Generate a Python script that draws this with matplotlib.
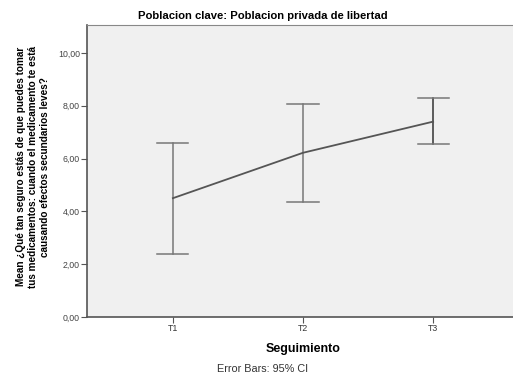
import matplotlib
matplotlib.use("Agg")
import matplotlib.pyplot as plt
import numpy as np

plt.rcParams["font.family"] = ["Liberation Sans", "DejaVu Sans"]

categories = ["T1", "T2", "T3"]
means = [4.50, 6.22, 7.40]
ci_upper = [6.58, 8.08, 8.28]
ci_lower = [2.37, 4.36, 6.55]
yticks = [0, 2, 4, 6, 8, 10]
ytick_labels = ["0,00", "2,00", "4,00", "6,00", "8,00", "10,00"]

fig = plt.figure(figsize=(5.13, 3.77), dpi=100)
ax = fig.add_axes([87/513, 60/377, 432/513, 292/377])
ax.set_facecolor("#f0f0f0")

x = np.arange(1, len(categories) + 1)
ax.plot(x, means, color="#555555", lw=1.3, zorder=3)
cap = 0.12
for i, xi in enumerate(x):
    col = "#333333" if i == 2 else "#777777"
    ax.plot([xi, xi], [ci_lower[i], ci_upper[i]], color=col, lw=1.1, zorder=2)
    for yv in (ci_lower[i], ci_upper[i]):
        ax.plot([xi - cap, xi + cap], [yv, yv], color="#777777", lw=1.1, zorder=2)

ax.set_xlim(0.34, 3.66)
ax.set_ylim(0, 11.06)
ax.set_xticks(x)
ax.set_xticklabels(categories, fontsize=6.3, color="#333333")
ax.set_yticks(yticks)
ax.set_yticklabels(ytick_labels, fontsize=6.3, color="#444444")
ax.tick_params(axis="both", length=4, width=0.8, color="#555555", pad=1)

for s in ["left", "bottom"]:
    ax.spines[s].set_color("#555555")
    ax.spines[s].set_linewidth(1.2)
ax.spines["top"].set_color("#888888")
ax.spines["right"].set_visible(False)

ax.set_xlabel("Seguimiento", fontsize=9, fontweight="bold", labelpad=7)
ax.set_ylabel("Mean ¿Qué tan seguro estás de que puedes tomar\ntus medicamentos: cuando el medicamento te está\ncausando efectos secundarios leves?",
              fontsize=7.2, fontweight="bold", linespacing=1.25)
ax.yaxis.set_label_coords(-0.085, 0.515)
fig.text(263/513, 1 - 16/377, "Poblacion clave: Poblacion privada de libertad",
         ha="center", va="center", fontsize=8.1, fontweight="bold")
fig.text(263/513, 1 - 369/377, "Error Bars: 95% CI", ha="center", va="center",
         fontsize=7.8, color="#333333")

fig.savefig("out.png", dpi=100)
